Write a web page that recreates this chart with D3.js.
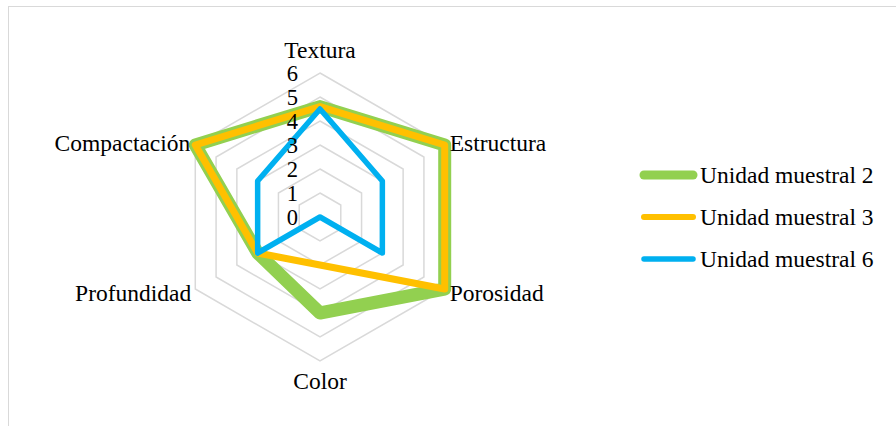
<!DOCTYPE html>
<html>
<head>
<meta charset="utf-8">
<script src="https://cdn.jsdelivr.net/npm/d3@7"></script>
<style>
  html, body { margin: 0; padding: 0; background: #fff; }
  svg { display: block; }
  text { font-family: "Liberation Serif", "Times New Roman", serif; fill: #000; }
</style>
</head>
<body>
<svg id="chart" width="896" height="426"></svg>
<script>
// Soil attributes evaluated on each axis (clockwise from the top)
const categories = ["Textura", "Estructura", "Porosidad", "Color", "Profundidad", "Compactación"];

// Scores per sample unit
const unidad2 = [4.6, 6, 6, 4, 3, 6];
const unidad3 = [4.6, 6, 6, 2, 3, 6];
const unidad6 = [4.5, 3, 3, 0, 3, 3];

const seriesNames = ["Unidad muestral 2", "Unidad muestral 3", "Unidad muestral 6"];
const tickValues = [0, 1, 2, 3, 4, 5, 6];

const series = [
  { name: seriesNames[0], values: unidad2, color: "#92D050", width: 13, legendWidth: 9 },
  { name: seriesNames[1], values: unidad3, color: "#FFC000", width: 7, legendWidth: 6 },
  { name: seriesNames[2], values: unidad6, color: "#00B0F0", width: 5.5, legendWidth: 5.5 }
];

const svg = d3.select("#chart");
const cx = 320, cy = 217;

// Outer chart frame
svg.append("rect")
  .attr("x", 8.5).attr("y", 6.5)
  .attr("width", 1000).attr("height", 600)
  .attr("fill", "none").attr("stroke", "#d9d9d9").attr("stroke-width", 1);

const r = d3.scaleLinear().domain([0, 6]).range([0, 144]);
const angle = d3.scalePoint().domain(categories).range([0, 2 * Math.PI * (categories.length - 1) / categories.length]);

const g = svg.append("g").attr("transform", `translate(${cx},${cy})`);

const radial = d3.lineRadial()
  .angle((d, i) => angle(categories[i]))
  .radius(d => r(d))
  .curve(d3.curveLinearClosed);

// Hexagonal gridlines
g.append("g").selectAll("path")
  .data(tickValues.filter(v => v > 0))
  .join("path")
  .attr("d", v => radial(categories.map(() => v)))
  .attr("fill", "none")
  .attr("stroke", "#d9d9d9")
  .attr("stroke-width", 1.5);

// Series polygons
g.append("g").selectAll("path")
  .data(series)
  .join("path")
  .attr("d", s => radial(s.values))
  .attr("fill", "none")
  .attr("stroke", s => s.color)
  .attr("stroke-width", s => s.width)
  .attr("stroke-linejoin", "round");

// Value ticks along the Textura axis
g.append("g").selectAll("text")
  .data(tickValues)
  .join("text")
  .attr("x", -22)
  .attr("y", v => -r(v))
  .attr("dy", "0.36em")
  .attr("text-anchor", "end")
  .style("font-size", "22.5px")
  .text(v => v);

// Category labels
const point = (cat, v) => {
  const a = angle(cat) - Math.PI / 2;
  return [r(v) * Math.cos(a), r(v) * Math.sin(a)];
};
const labelCfg = {
  "Textura":      { anchor: "middle", dx: 0,  dy: -23 },
  "Estructura":   { anchor: "start",  dx: 5,  dy: -2 },
  "Porosidad":    { anchor: "start",  dx: 5,  dy: 4 },
  "Color":        { anchor: "middle", dx: 0,  dy: 20 },
  "Profundidad":  { anchor: "end",    dx: -4, dy: 4 },
  "Compactación": { anchor: "end",    dx: -5, dy: -2 }
};
g.append("g").selectAll("text")
  .data(categories)
  .join("text")
  .attr("x", c => point(c, 6)[0] + labelCfg[c].dx)
  .attr("y", c => point(c, 6)[1] + labelCfg[c].dy)
  .attr("dy", "0.33em")
  .attr("text-anchor", c => labelCfg[c].anchor)
  .style("font-size", "23.5px")
  .text(c => c);

// Legend
const legend = svg.append("g").attr("transform", "translate(640,175)");
const items = legend.selectAll("g")
  .data(series)
  .join("g")
  .attr("transform", (d, i) => `translate(0,${i * 42})`);
items.append("line")
  .attr("x1", 4).attr("x2", 53).attr("y1", 0).attr("y2", 0)
  .attr("stroke", d => d.color)
  .attr("stroke-width", d => d.legendWidth)
  .attr("stroke-linecap", "round");
items.append("text")
  .attr("x", 60).attr("y", 0).attr("dy", "0.33em")
  .style("font-size", "23.5px")
  .text(d => d.name);
</script>
</body>
</html>
